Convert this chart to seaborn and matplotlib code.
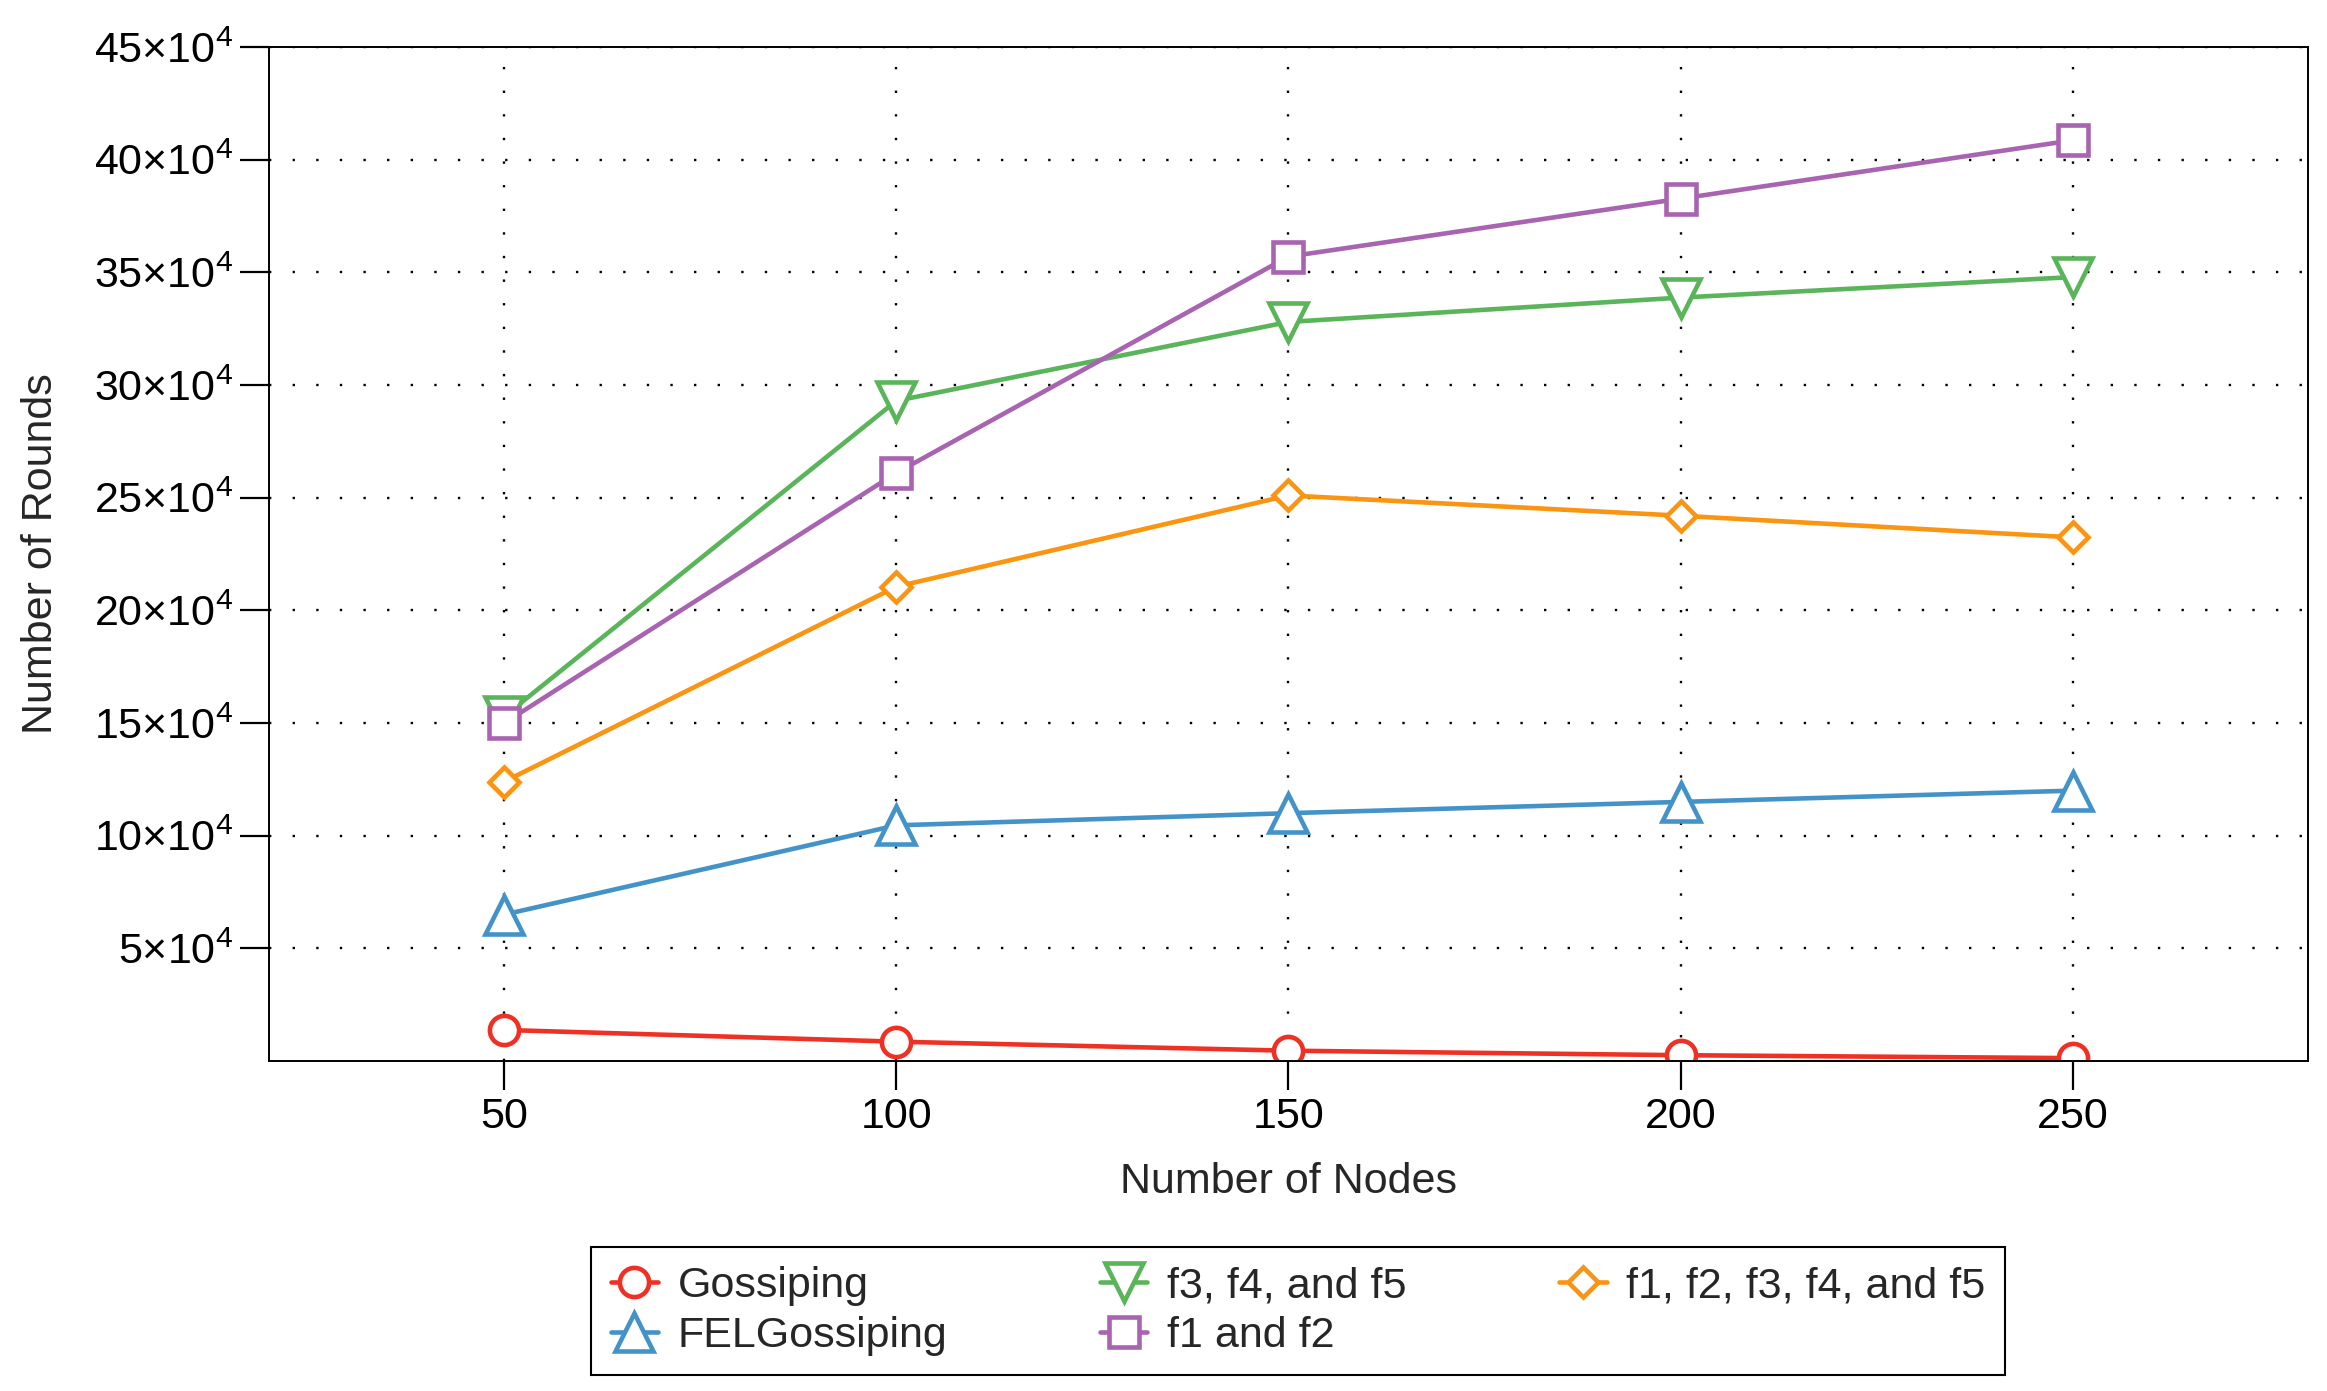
import numpy as np
import pandas as pd
import matplotlib
matplotlib.use("Agg")
from matplotlib import pyplot as plt
import seaborn as sns

nodes = [50, 100, 150, 200, 250]
gossiping = [13800, 8600, 4600, 2600, 1300]
fel_gossiping = [65000, 104600, 110000, 115000, 120000]
f3_f4_f5 = [153000, 293000, 328000, 338800, 347900]
f1_f2 = [150000, 261000, 357000, 382700, 408600]
f1_to_f5 = [124000, 210500, 251000, 242000, 232400]

series_names = ["Gossiping", "FELGossiping", "f3, f4, and f5", "f1 and f2", "f1, f2, f3, f4, and f5"]
series_values = [gossiping, fel_gossiping, f3_f4_f5, f1_f2, f1_to_f5]
colors = ["#ee3124", "#4393c8", "#5ab55a", "#a864b0", "#fb9410"]
markers = ["o", "^", "v", "s", "D"]
msizes = [21, 28, 28, 21, 15]

y_ticks = [50000, 100000, 150000, 200000, 250000, 300000, 350000, 400000, 450000]

rows = []
for name, vals in zip(series_names, series_values):
    for n, v in zip(nodes, vals):
        rows.append({"nodes": n, "rounds": v, "series": name})
df = pd.DataFrame(rows)

sns.set_theme(style="ticks")
plt.rcParams["font.family"] = ["Liberation Sans", "DejaVu Sans"]
plt.rcParams["mathtext.fontset"] = "custom"
plt.rcParams["mathtext.rm"] = "Liberation Sans"
plt.rcParams["mathtext.it"] = "Liberation Sans:italic"
plt.rcParams["mathtext.bf"] = "Liberation Sans:bold"
plt.rcParams["xtick.bottom"] = True
plt.rcParams["ytick.left"] = True
plt.rcParams["xtick.color"] = "black"
plt.rcParams["ytick.color"] = "black"

fig = plt.figure(figsize=(23.27, 13.91), dpi=100)
ax = fig.add_axes([0.1156, 0.2372, 0.8762, 0.729])

for name, col, mk, ms in zip(series_names, colors, markers, msizes):
    sub = df[df["series"] == name]
    sns.lineplot(data=sub, x="nodes", y="rounds", color=col, marker=mk, markersize=ms,
                 markerfacecolor="white", markeredgecolor=col, markeredgewidth=3.3,
                 linewidth=3.3, label=name, ax=ax, legend=False)

ax.set_xlim(20, 280)
ax.set_ylim(0, 450000)
ax.set_xticks(nodes)
ax.set_yticks(y_ticks)
ax.set_yticklabels([r"$\mathregular{%d{\times}10^{4}}$" % (t // 10000) for t in y_ticks])

# dotted black grid, solid outward ticks
ax.tick_params(axis="both", direction="out", length=21, width=1.6, color="black",
               labelsize=31, labelcolor="black", bottom=True, left=True,
               grid_color="black", grid_linestyle=(0, (1, 9)), grid_linewidth=1.7)
ax.tick_params(axis="x", pad=5)
ax.tick_params(axis="y", pad=5)
ax.grid(True)

for s in ax.spines.values():
    s.set_color("black")
    s.set_linewidth(1.4)

ax.set_xlabel("Number of Nodes", fontsize=31, labelpad=18)
ax.set_ylabel("Number of Rounds", fontsize=31, labelpad=24)

handles, labels = ax.get_legend_handles_labels()
leg = fig.legend(handles, labels, loc="upper center", bbox_to_anchor=(0.5578, 0.1035),
                 ncol=3, fontsize=31, frameon=True, fancybox=False, framealpha=1,
                 edgecolor="black", handlelength=1.1, handletextpad=0.45,
                 columnspacing=3.55, borderpad=0.45, labelspacing=0.22, borderaxespad=0)
leg.get_frame().set_linewidth(1.5)

plt.savefig("out.png", dpi=100)
